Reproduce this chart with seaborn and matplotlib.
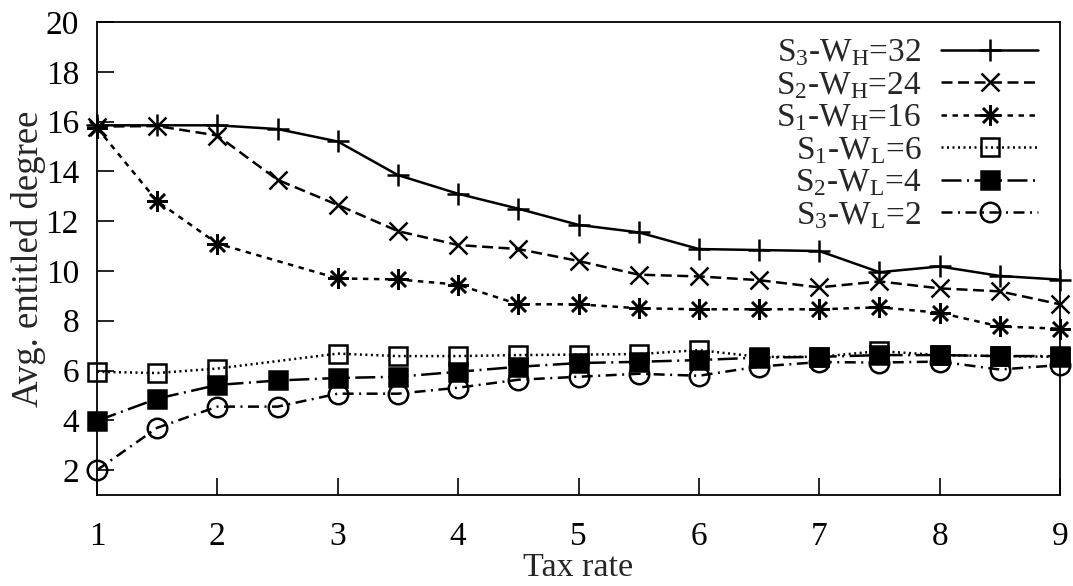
import numpy as np
import pandas as pd
import matplotlib
matplotlib.use('Agg')
import matplotlib.pyplot as plt
import seaborn as sns

# Data
tax_rate = [1, 1.5, 2, 2.5, 3, 3.5, 4, 4.5, 5, 5.5, 6, 6.5, 7, 7.5, 8, 8.5, 9]
tax_rate_s1 = [1, 1.5, 2, 3, 3.5, 4, 4.5, 5, 5.5, 6, 6.5, 7, 7.5, 8, 8.5, 9]

s3_wh32 = [15.85, 15.85, 15.85, 15.7, 15.2, 13.85, 13.1, 12.5, 11.85, 11.55,
           10.88, 10.84, 10.8, 9.95, 10.18, 9.8, 9.65]
s2_wh24 = [15.8, 15.82, 15.44, 13.66, 12.65, 11.6, 11.04, 10.88, 10.4, 9.85,
           9.78, 9.63, 9.34, 9.58, 9.3, 9.18, 8.66]
s1_wh16 = [15.75, 12.8, 11.1, 9.7, 9.66, 9.45, 8.66, 8.66, 8.5, 8.46,
           8.46, 8.46, 8.54, 8.32, 7.77, 7.68]
s1_wl6 = [5.95, 5.9, 6.08, 6.68, 6.58, 6.58, 6.62, 6.64, 6.66, 6.82,
          6.55, 6.55, 6.78, 6.62, 6.58, 6.55]
s2_wl4 = [3.98, 4.87, 5.42, 5.6, 5.7, 5.75, 5.95, 6.15, 6.3, 6.35,
          6.42, 6.52, 6.55, 6.62, 6.62, 6.58, 6.58]
s3_wl2 = [2.0, 3.7, 4.55, 4.55, 5.07, 5.07, 5.31, 5.63, 5.75, 5.87,
          5.79, 6.16, 6.34, 6.32, 6.36, 6.04, 6.22]

labels = [r'S$_\mathrm{3}$-W$_\mathrm{H}$=32', r'S$_\mathrm{2}$-W$_\mathrm{H}$=24',
          r'S$_\mathrm{1}$-W$_\mathrm{H}$=16', r'S$_\mathrm{1}$-W$_\mathrm{L}$=6',
          r'S$_\mathrm{2}$-W$_\mathrm{L}$=4', r'S$_\mathrm{3}$-W$_\mathrm{L}$=2']

series = [
    (tax_rate, s3_wh32, dict(marker='+', markersize=16, linestyle='-')),
    (tax_rate, s2_wh24, dict(marker='x', markersize=13, linestyle=(0, (4.4, 2.2)))),
    (tax_rate_s1, s1_wh16, dict(marker=(8, 2, 0), markersize=15, linestyle=(0, (2.2, 2.2)))),
    (tax_rate_s1, s1_wl6, dict(marker='s', markersize=13, markerfacecolor='none',
                               linestyle=(0, (0.8, 1.4)))),
    (tax_rate, s2_wl4, dict(marker='s', markersize=13, markerfacecolor='black',
                            linestyle=(0, (8, 2.2, 0.8, 2.2)))),
    (tax_rate, s3_wl2, dict(marker='o', markersize=14, markerfacecolor='none',
                            linestyle=(0, (4.4, 2.2, 0.8, 2.2)))),
]

sns.set_theme(style='ticks')
plt.rcParams['font.family'] = ['Liberation Serif', 'DejaVu Serif']
plt.rcParams['mathtext.fontset'] = 'custom'
plt.rcParams['mathtext.rm'] = 'Liberation Serif'
plt.rcParams['mathtext.it'] = 'Liberation Serif:italic'

fig = plt.figure(figsize=(10.73, 5.86), dpi=100)
ax = fig.add_axes([97 / 1073, 1 - 495 / 586, (1060 - 97) / 1073, (495 - 22) / 586])

for (xs, ys, style), label in zip(series, labels):
    df = pd.DataFrame({'tax': xs, 'deg': ys})
    sns.lineplot(data=df, x='tax', y='deg', ax=ax, color='black', lw=1.8,
                 markeredgecolor='black', markeredgewidth=1.8, label=label,
                 clip_on=False, **style)

ax.set_xlim(1, 9)
ax.set_ylim(1, 20)
ax.set_xticks(range(1, 10))
ax.set_yticks(range(2, 21, 2))
ax.tick_params(direction='in', length=12, width=1.2, labelsize=24, colors='black')
ax.tick_params(axis='x', pad=19)
ax.tick_params(axis='y', pad=13)
for sp in ax.spines.values():
    sp.set_visible(True)
    sp.set_linewidth(1.3)
    sp.set_color('black')

ax.set_xlabel('Tax rate', fontsize=24.5)
ax.xaxis.label.set_va('baseline')
ax.xaxis.set_label_coords(0.5, -0.171)
ax.set_ylabel('Avg. entitled degree', fontsize=26.5)
ax.yaxis.label.set_va('center')
ax.yaxis.set_label_coords(-0.071, 0.5)

leg = ax.legend(loc='upper right', bbox_to_anchor=(0.991, 0.995), frameon=False,
                markerfirst=False, fontsize=24, handlelength=2.9, handletextpad=0.6,
                labelspacing=0.05, borderaxespad=0.0)

fig.savefig('out.png', dpi=100)
